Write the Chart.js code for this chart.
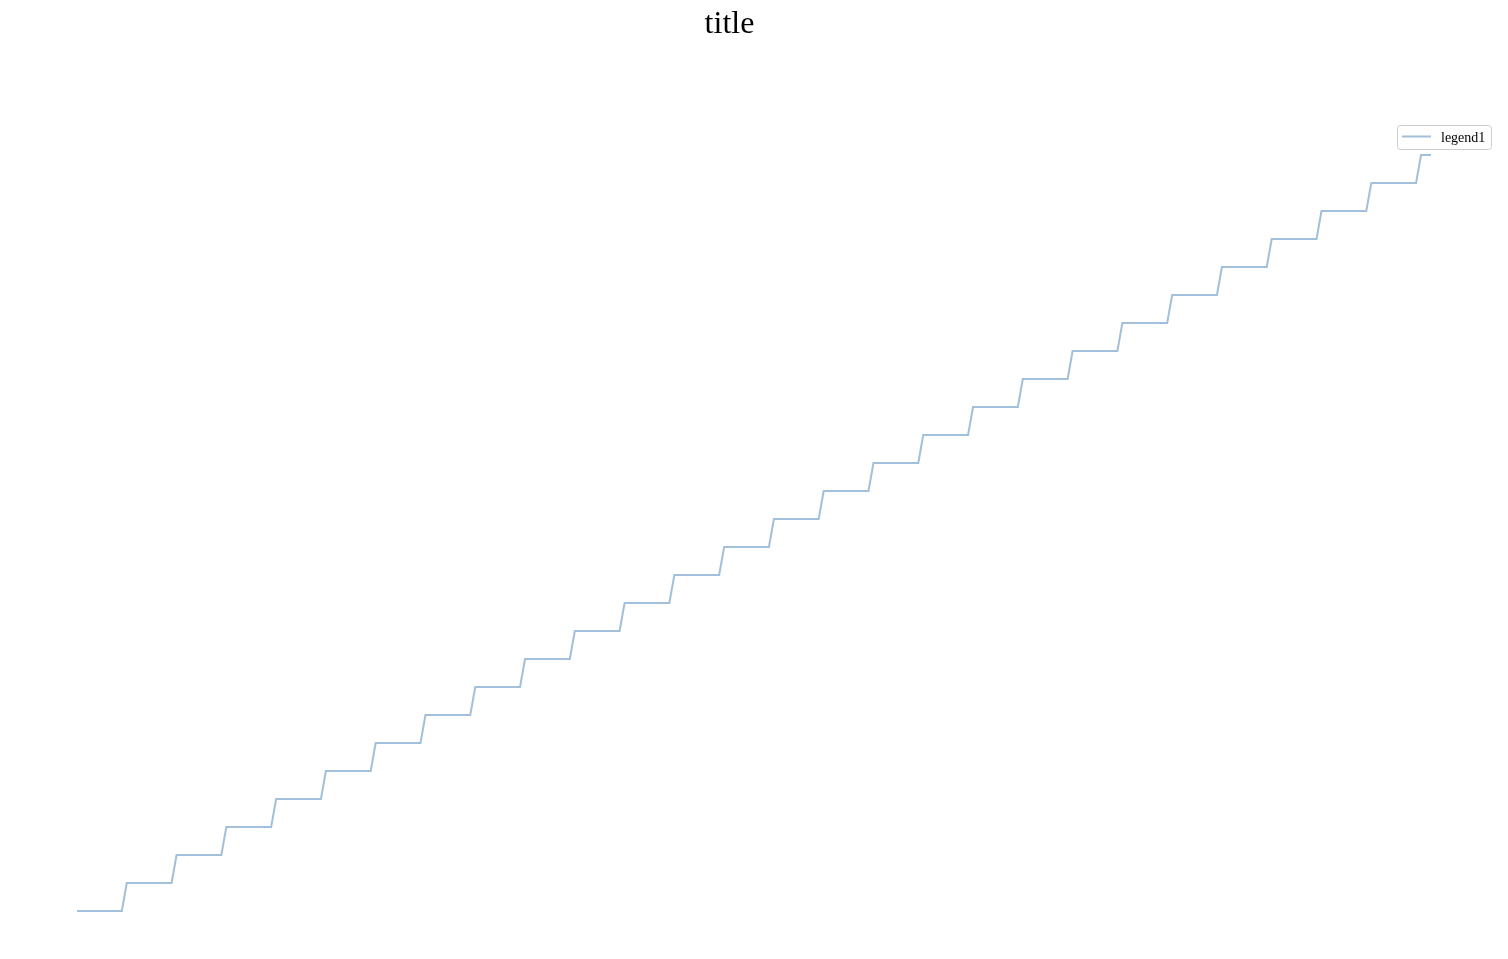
<!DOCTYPE html>
<html>
<head>
<meta charset="utf-8">
<script src="https://cdn.jsdelivr.net/npm/chart.js@4"></script>
<style>
html,body{margin:0;padding:0;background:#fff;}
canvas{display:block;}
</style>
</head>
<body>
<canvas id="c" width="1508" height="959"></canvas>
<script>
const titleText = "title";
const seriesLabel = "legend1";
const stepX = [0,9,10,19,20,29,30,39,40,49,50,59,60,69,70,79,80,89,90,99,100,109,110,119,120,129,130,139,140,149,150,159,160,169,170,179,180,189,190,199,200,209,210,219,220,229,230,239,240,249,250,259,260,269,270,272];
const stepY = [0,0,1,1,2,2,3,3,4,4,5,5,6,6,7,7,8,8,9,9,10,10,11,11,12,12,13,13,14,14,15,15,16,16,17,17,18,18,19,19,20,20,21,21,22,22,23,23,24,24,25,25,26,26,27,27];

const lineColor = "rgba(70,130,180,0.5)";

const overlay = {
  id: "overlay",
  afterDraw(chart) {
    const ctx = chart.ctx;
    ctx.save();
    // title
    ctx.fillStyle = "#000";
    ctx.font = "32px 'Liberation Serif'";
    ctx.textAlign = "center";
    ctx.textBaseline = "alphabetic";
    ctx.fillText(titleText, 729.5, 33);
    // legend
    const ds = chart.data.datasets[0];
    const x0 = 1397.5, y0 = 125.5, w = 94, h = 24, r = 3;
    ctx.beginPath();
    ctx.moveTo(x0 + r, y0);
    ctx.lineTo(x0 + w - r, y0);
    ctx.arcTo(x0 + w, y0, x0 + w, y0 + r, r);
    ctx.lineTo(x0 + w, y0 + h - r);
    ctx.arcTo(x0 + w, y0 + h, x0 + w - r, y0 + h, r);
    ctx.lineTo(x0 + r, y0 + h);
    ctx.arcTo(x0, y0 + h, x0, y0 + h - r, r);
    ctx.lineTo(x0, y0 + r);
    ctx.arcTo(x0, y0, x0 + r, y0, r);
    ctx.closePath();
    ctx.fillStyle = "rgba(255,255,255,0.8)";
    ctx.fill();
    ctx.strokeStyle = "#cccccc";
    ctx.lineWidth = 1;
    ctx.stroke();
    ctx.beginPath();
    ctx.moveTo(1402, 136.5);
    ctx.lineTo(1431, 136.5);
    ctx.strokeStyle = ds.borderColor;
    ctx.lineWidth = 2;
    ctx.stroke();
    ctx.fillStyle = "#000";
    ctx.font = "14px 'Liberation Serif'";
    ctx.textAlign = "left";
    ctx.fillText(ds.label, 1441, 141.5);
    ctx.restore();
  }
};

new Chart(document.getElementById("c"), {
  type: "line",
  data: {
    datasets: [{
      label: seriesLabel,
      data: stepX.map((x, i) => ({ x: x, y: stepY[i] })),
      borderColor: lineColor,
      backgroundColor: lineColor,
      borderWidth: 2,
      pointRadius: 0,
      tension: 0,
      fill: false,
      clip: false
    }]
  },
  options: {
    responsive: false,
    animation: false,
    devicePixelRatio: 1,
    layout: { padding: { left: 77, right: 77, top: 155, bottom: 48 } },
    plugins: { legend: { display: false }, title: { display: false }, tooltip: { enabled: false } },
    scales: {
      x: { type: "linear", min: 0, max: 272, display: false },
      y: { type: "linear", min: 0, max: 27, display: false }
    }
  },
  plugins: [overlay]
});
</script>
</body>
</html>
